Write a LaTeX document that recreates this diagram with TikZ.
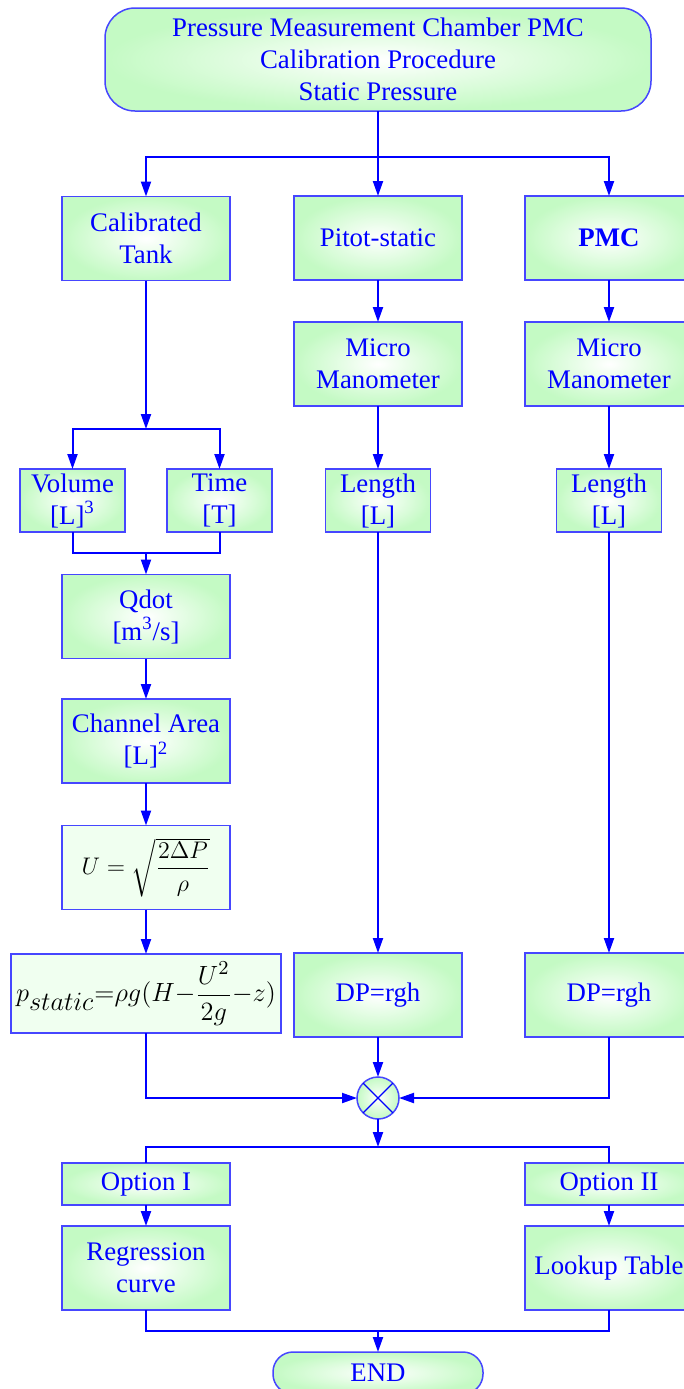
\documentclass[tikz,border=0pt]{standalone}
\usepackage{amsmath}
\usepackage{graphicx}
\usepackage{fontspec}
\setmainfont{Liberation Serif}
\usepackage{tikz}
\usetikzlibrary{positioning, arrows.meta, shapes.geometric}
\definecolor{fBlue}{RGB}{0,0,255}
\definecolor{fEdge}{RGB}{70,70,255}
\definecolor{fGreen}{RGB}{196,250,196}
\definecolor{fPale}{RGB}{240,255,240}
\tikzset{
  boxbase/.style={draw=fEdge, line width=0.75pt, inner sep=0pt, outer sep=0pt,
    minimum width=84pt, minimum height=42pt, text=fBlue, align=center,
    font=\fontsize{13.4}{16}\selectfont},
  stepbox/.style={boxbase, inner color=white, outer color=fGreen},
  smallbox/.style={stepbox, minimum width=52.5pt, minimum height=31.5pt},
  optbox/.style={stepbox, minimum height=21pt},
  mathbox/.style={boxbase, fill=fPale, text=black},
  termbox/.style={stepbox, rounded corners=10pt},
  flow/.style={draw=fBlue, line width=1pt, -{Triangle[length=7.5pt,width=5pt]}},
  link/.style={draw=fBlue, line width=1pt},
}

\begin{document}
\begin{tikzpicture}[x=0.5pt, y=-0.5pt]
  \useasboundingbox (0,0) rectangle (684,1389);
  \clip (0,0) rectangle (684,1389);
  \node[stepbox, rounded corners=15pt, minimum width=273pt, minimum height=51.5pt] (top) at (378,59.5)
    {Pressure Measurement Chamber PMC\\Calibration Procedure\\Static Pressure};
  \node[stepbox] (tank) at (146,238.5) {Calibrated\\Tank};
  \node[stepbox] (pitot) at (378,238) {Pitot-static};
  \node[stepbox, font=\fontsize{13.4}{16}\selectfont\bfseries] (pmc) at (609,238) {PMC};
  \node[smallbox] (vol) at (72.5,500.5) {Volume\\{[L]\textsuperscript{3}}};
  \node[smallbox] (time) at (219.5,500.5) {Time\\{[T]}};
  \node[stepbox] (qdot) at (146,616.5) {Qdot\\{[m\textsuperscript{3}/s]}};
  \node[stepbox] (area) at (146,741) {Channel Area\\{[L]\textsuperscript{2}}};
  \node[mathbox, font=\fontsize{12}{14}\selectfont] (ueq) at (146,867.5) {$U=\sqrt{\dfrac{2\Delta P}{\rho}}$};
  \node[mathbox, minimum width=135pt, minimum height=39.5pt, font=\fontsize{12.8}{15}\selectfont] (pst) at (146,993.5)
    {\scalebox{1.1}{$p_{\textstyle static}{=}\rho g(H{-}\dfrac{U^2}{2g}{-}z)$}};
  \foreach \c/\x in {a/378,b/609} {
    \node[stepbox] (micro\c) at (\x,364) {Micro\\Manometer};
    \node[smallbox] (len\c) at (\x,500.5) {Length\\{[L]}};
    \node[stepbox] (dp\c) at (\x,995) {DP=rgh};
    \draw[flow] (micro\c) -- (len\c);
    \draw[flow] (len\c) -- (dp\c);
  }
  \node[circle, draw=fEdge, line width=0.75pt, inner color=white, outer color=fGreen,
    minimum size=21pt, inner sep=0pt, outer sep=0pt] (sum) at (378,1098) {};
  \draw[fBlue, line width=0.6pt] (sum.north west) -- (sum.south east) (sum.north east) -- (sum.south west);
  \node[optbox] (opt1) at (146,1184) {Option I};
  \node[optbox] (opt2) at (609,1184) {Option II};
  \node[stepbox] (reg) at (146,1268) {Regression\\curve};
  \node[stepbox] (look) at (609,1268) {Lookup Table};
  \node[termbox, minimum width=105pt, minimum height=21pt] (finish) at (378,1373) {END};

  \coordinate (j1) at (378,157);
  \coordinate (j2) at (146,429);
  \coordinate (j3) at (146,553);
  \coordinate (j4) at (378,1147);
  \coordinate (j5) at (378,1331);
  \draw[link] (top) -- (j1);
  \draw[flow] (j1) -| (tank);
  \draw[flow] (j1) -- (pitot);
  \draw[flow] (j1) -| (pmc);
  \draw[flow] (pitot) -- (microa);
  \draw[flow] (pmc) -- (microb);
  \draw[flow] (tank) -- (j2);
  \draw[flow] (j2) -| (vol);
  \draw[flow] (j2) -| (time);
  \draw[link] (vol) |- (j3) -| (time);
  \draw[flow] (j3) -- (qdot);
  \draw[flow] (qdot) -- (area);
  \draw[flow] (area) -- (ueq);
  \draw[flow] (ueq) -- (pst);
  \draw[flow] (pst) |- (sum);
  \draw[flow] (dpa) -- (sum);
  \draw[flow] (dpb) |- (sum);
  \draw[flow] (sum) -- (j4);
  \draw[link] (j4) -| (opt1);
  \draw[link] (j4) -| (opt2);
  \draw[flow] (opt1) -- (reg);
  \draw[flow] (opt2) -- (look);
  \draw[link] (reg) |- (j5) -| (look);
  \draw[flow] (j5) -- (finish);
\end{tikzpicture}
\end{document}
